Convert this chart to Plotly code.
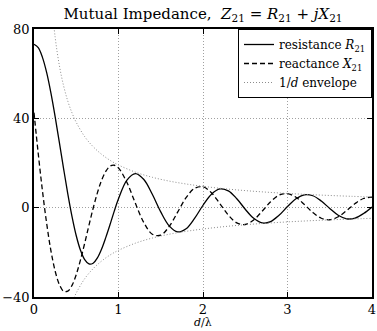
import plotly.graph_objects as go

# separation d/lambda
d = [0.0, 0.05, 0.1, 0.15, 0.2, 0.25, 0.3, 0.35, 0.4, 0.45, 0.5, 0.55, 0.6, 0.65, 0.7,
     0.75, 0.8, 0.85, 0.9, 0.95, 1.0, 1.1, 1.2, 1.3, 1.4, 1.5, 1.6, 1.7, 1.8, 1.9, 2.0,
     2.1, 2.2, 2.3, 2.4, 2.5, 2.6, 2.7, 2.8, 2.9, 3.0, 3.1, 3.2, 3.3, 3.4, 3.5, 3.6,
     3.7, 3.8, 3.9, 4.0]

# resistance R21 (ohm)
R21 = [73.13, 71.64, 67.3, 60.44, 51.4, 40.78, 29.2, 17.5, 6.2, -3.99, -12.57, -19.06,
       -23.3, -25.22, -24.89, -22.5, -18.53, -13.32, -7.57, -1.55, 4.0, 12.33, 15.26,
       12.61, 5.98, -1.89, -8.16, -10.86, -9.44, -4.81, 1.08, 6.05, 8.40, 7.52, 4.00,
       -0.70, -4.79, -6.84, -6.25, -3.41, 0.49, 3.96, 5.77, 5.34, 2.97, -0.36, -3.38,
       -4.98, -4.66, -2.63, 0.28]

# reactance X21 (ohm)
X21 = [42.55, 24.27, 7.54, -7.09, -19.2, -28.35, -34.4, -37.41, -37.4, -34.79, -29.93,
       -23.41, -15.9, -7.94, -0.25, 6.62, 12.3, 16.29, 18.6, 18.99, 17.75, 11.24, 1.94,
       -6.69, -11.89, -12.31, -8.39, -1.97, 4.47, 8.66, 9.37, 6.65, 1.78, -3.31, -6.80,
       -7.54, -5.49, -1.59, 2.62, 5.59, 6.31, 4.67, 1.42, -2.16, -4.74, -5.42, -4.07,
       -1.28, 1.84, 4.11, 4.75]

# 1/d envelope
d_env = [0.2, 0.25, 0.3, 0.35, 0.4, 0.45, 0.5, 0.6, 0.7, 0.8, 0.9, 1.0, 1.2, 1.4, 1.6,
         1.8, 2.0, 2.25, 2.5, 2.75, 3.0, 3.25, 3.5, 3.75, 4.0]
env_upper = [95.5, 76.4, 63.7, 54.6, 47.7, 42.4, 38.2, 31.8, 27.3, 23.9, 21.2, 19.1,
             15.9, 13.6, 11.9, 10.6, 9.55, 8.49, 7.64, 6.95, 6.37, 5.88, 5.46, 5.09, 4.77]
env_lower = [-95.5, -76.4, -63.7, -54.6, -47.7, -42.4, -38.2, -31.8, -27.3, -23.9, -21.2,
             -19.1, -15.9, -13.6, -11.9, -10.6, -9.55, -8.49, -7.64, -6.95, -6.37, -5.88,
             -5.46, -5.09, -4.77]

x_ticks = [0, 1, 2, 3, 4]
y_ticks = [-40, 0, 40, 80]

FONT = "DejaVu Serif"

fig = go.Figure()
fig.add_trace(go.Scatter(x=d, y=R21, mode="lines", name="resistance <i>R</i><sub>21</sub>",
                         line=dict(color="black", width=1.3, shape="spline")))
fig.add_trace(go.Scatter(x=d, y=X21, mode="lines", name="reactance <i>X</i><sub>21</sub>",
                         line=dict(color="black", width=1.3, dash="5px,3px", shape="spline")))
fig.add_trace(go.Scatter(x=d_env, y=env_upper, mode="lines", name="1/<i>d</i> envelope",
                         line=dict(color="#8c8c8c", width=1, dash="1px,2px", shape="spline")))
fig.add_trace(go.Scatter(x=d_env, y=env_lower, mode="lines", showlegend=False,
                         line=dict(color="#8c8c8c", width=1, dash="1px,2px", shape="spline")))

axis_common = dict(showline=True, linecolor="black", linewidth=1.5, mirror="ticks",
                   ticks="inside", ticklen=5, tickcolor="black", tickwidth=1,
                   showgrid=True, gridcolor="#a0a0a0", griddash="1px,2px", gridwidth=1,
                   zeroline=False, automargin=False, ticklabeloverflow="allow",
                   tickfont=dict(family=FONT, size=13, color="black"))

fig.update_xaxes(range=[0, 4], tickvals=x_ticks, **axis_common)
fig.update_yaxes(range=[-40, 80], tickvals=y_ticks, **axis_common)

fig.update_layout(
    width=377, height=331,
    margin=dict(l=34, r=5, t=29, b=34),
    paper_bgcolor="white", plot_bgcolor="white",
    font=dict(family=FONT, size=13, color="black"),
    title=dict(text="Mutual Impedance,  <i>Z</i><sub>21</sub> = <i>R</i><sub>21</sub> + <i>jX</i><sub>21</sub>",
               x=0.5, xref="paper", xanchor="center",
               y=1 - 14 / 331, yref="container", yanchor="middle",
               font=dict(family=FONT, size=15, color="black")),
    legend=dict(x=1, y=1, xanchor="right", yanchor="top", bgcolor="white",
                bordercolor="black", borderwidth=1,
                font=dict(family=FONT, size=12, color="black"), tracegroupgap=0),
    showlegend=True,
    annotations=[dict(text="<i>d</i>/λ", x=0.5, xref="paper", y=-25 / 268, yref="paper",
                      xanchor="center", yanchor="middle", showarrow=False,
                      font=dict(family=FONT, size=11, color="black"))],
)

fig.write_html("out.html")
